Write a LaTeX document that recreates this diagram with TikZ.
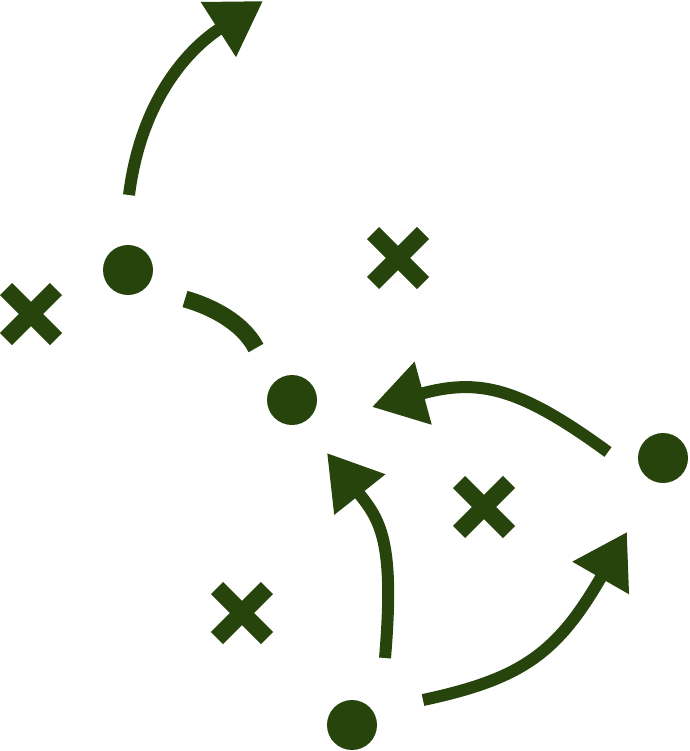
\documentclass[tikz,border=0pt]{standalone}
\usetikzlibrary{arrows.meta,shapes.misc}
\definecolor{dgreen}{RGB}{39,68,13}
\begin{document}
\begin{tikzpicture}[x=1pt,y=-1pt,
  dot/.style={circle,fill=dgreen,minimum size=50pt,inner sep=0pt},
  xmark/.style={cross out,draw=dgreen,line width=17pt,minimum size=50pt,inner sep=0pt,outer sep=0pt},
  move/.style={draw=dgreen,line width=12pt,-{Triangle[length=53pt,width=62pt]},fill=none},
  blocker/.style={draw=dgreen,line width=17pt}]
\useasboundingbox (0,0) rectangle (689,751);
% players
\node[dot] (p1) at (128,270) {};
\node[dot] (p2) at (292,400) {};
\node[dot] (p3) at (663,458) {};
\node[dot] (p4) at (352,725) {};
% defenders
\node[xmark] (x1) at (31,314) {};
\node[xmark] (x2) at (398,258) {};
\node[xmark] (x3) at (484,507) {};
\node[xmark] (x4) at (242,613) {};
% coordinates
\coordinate (a1s) at (129,195);
\coordinate (a1t) at (263,1);
\coordinate (a2s) at (608,452);
\coordinate (a2t) at (372,407);
\coordinate (a3s) at (385,658);
\coordinate (a3t) at (327,453);
\coordinate (a4s) at (423,700);
\coordinate (a4t) at (627,532);
\coordinate (bs) at (185,299);
\coordinate (be) at (256,348);
% runs
\draw[move] (a1s) .. controls (144,76) and (213,33) .. (a1t);
\draw[move] (a2s) .. controls (519,387) and (479,378) .. (a2t);
\draw[move] (a3s) .. controls (395,540) and (380,520) .. (a3t);
\draw[move] (a4s) .. controls (521,679) and (557,654) .. (a4t);
% block
\draw[blocker] (bs) .. controls (213,307) and (243,323) .. (be);
\end{tikzpicture}
\end{document}
